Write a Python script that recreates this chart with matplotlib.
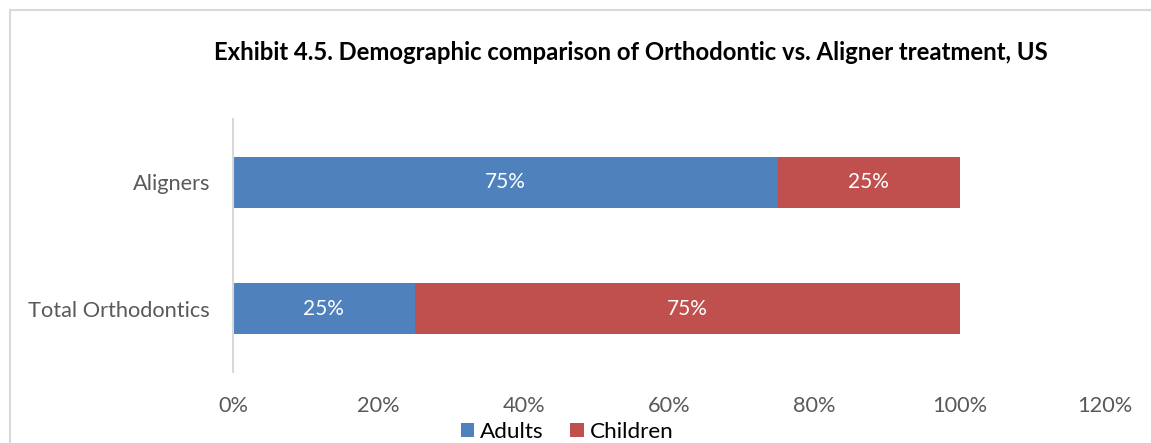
import matplotlib
matplotlib.use("Agg")
import matplotlib.pyplot as plt
from matplotlib.patches import Rectangle
from matplotlib.ticker import PercentFormatter

# data
categories = ['Total Orthodontics', 'Aligners']
adults = [25, 75]
children = [75, 25]
series_names = ['Adults', 'Children']
xticks = [0, 20, 40, 60, 80, 100, 120]

blue = '#4F81BD'
red = '#C0504D'
grey_txt = '#595959'

plt.rcParams['font.family'] = ['Lato', 'DejaVu Sans']

fig = plt.figure(figsize=(11.51, 4.43), dpi=100)
ax = fig.add_axes([233/1151, 1 - 372/443, (1105 - 233)/1151, (372 - 119)/443])

ypos = range(len(categories))
b1 = ax.barh(ypos, adults, height=0.4, color=blue, label=series_names[0])
b2 = ax.barh(ypos, children, left=adults, height=0.4, color=red, label=series_names[1])

for bars in (b1, b2):
    ax.bar_label(bars, labels=['%d%%' % b.get_width() for b in bars],
                 label_type='center', color='white', fontsize=15)

ax.set_xlim(0, 120)
ax.set_ylim(-0.5, 1.5)
ax.set_xticks(xticks)
ax.xaxis.set_major_formatter(PercentFormatter(decimals=0))
ax.set_yticks(list(ypos))
ax.set_yticklabels(categories)
ax.tick_params(axis='both', length=0, labelsize=15.7, colors=grey_txt)
ax.tick_params(axis='x', pad=17)
ax.tick_params(axis='y', pad=16.5)

for s in ('top', 'right', 'bottom'):
    ax.spines[s].set_visible(False)
ax.spines['left'].set_color('#d9d9d9')
ax.spines['left'].set_linewidth(1.5)

fig.text(631/1151, 1 - 52/443, 'Exhibit 4.5. Demographic comparison of Orthodontic vs. Aligner treatment, US',
         ha='center', va='center', fontsize=17.2, fontweight='bold', color='black')

fig.legend(handles=[b1, b2], loc='center', bbox_to_anchor=(567/1151, 1 - 432/443),
           ncol=2, frameon=False, fontsize=16.2, handlelength=0.6, handleheight=0.6,
           handletextpad=0.25, columnspacing=1.2, borderpad=0)

# outer chart border (display coords, origin bottom-left)
fig.patches.append(Rectangle((10, -80), 1200, 443 - 10 + 80, transform=None, fill=False,
                             edgecolor='#d9d9d9', linewidth=1.5))

fig.savefig('out.png', dpi=100)
